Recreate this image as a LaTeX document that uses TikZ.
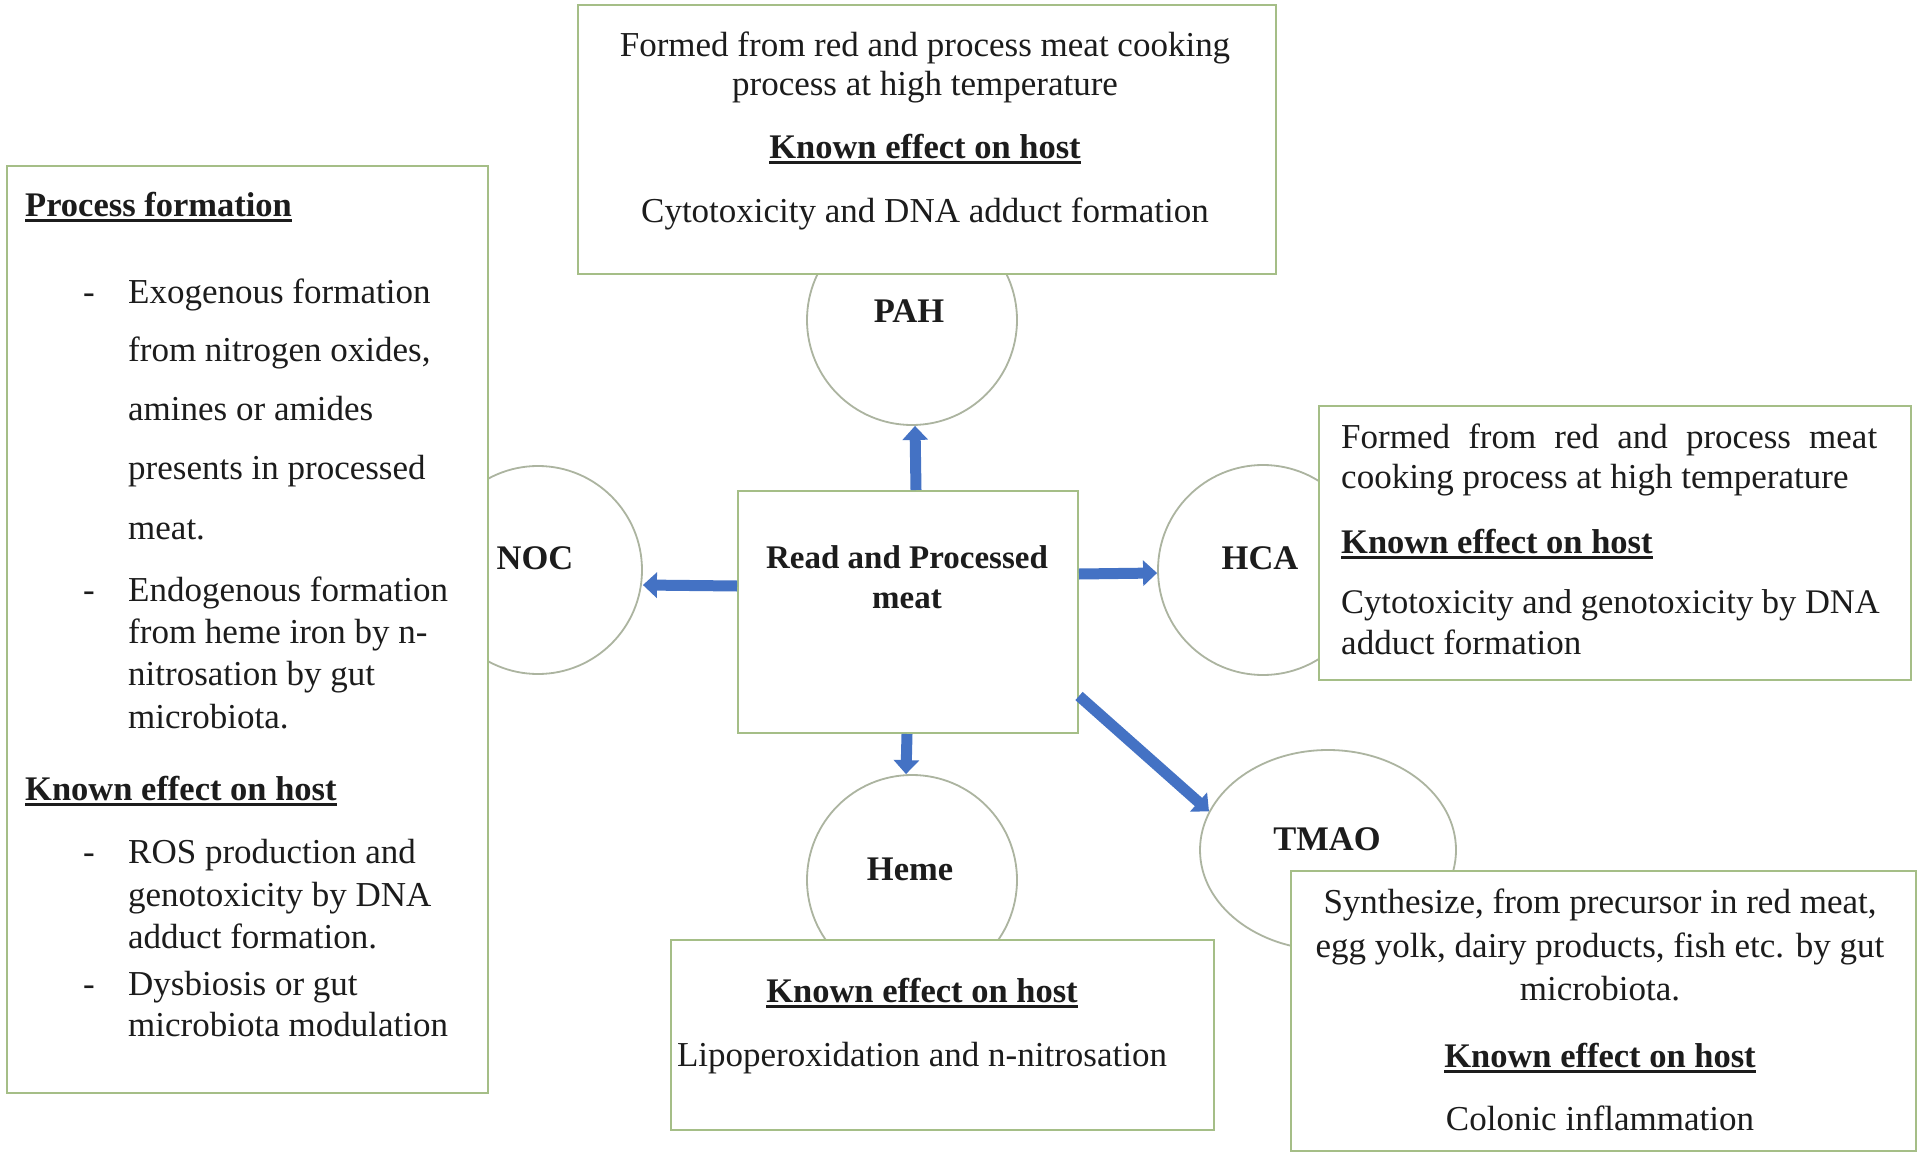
\documentclass[tikz,border=0pt]{standalone}
\usepackage{fontspec}
\setmainfont{Liberation Serif}
\usetikzlibrary{arrows.meta,shapes.geometric}
\definecolor{boxgreen}{RGB}{165,190,135}
\definecolor{circgray}{RGB}{172,180,160}
\definecolor{arrblue}{RGB}{68,114,196}
\definecolor{inkdark}{RGB}{28,28,28}
\newsavebox\kulbox
\newcommand\kul[1]{\sbox\kulbox{#1}\rlap{\rule[-6pt]{\wd\kulbox}{2.6pt}}\usebox\kulbox}
\begin{document}
\begin{tikzpicture}[x=1pt,y=-1pt,
  txt/.style={inner sep=0pt, text=inkdark, font=\fontsize{35}{40}\selectfont},
  btxt/.style={inner sep=0pt, text=inkdark, font=\fontsize{34.5}{40}\selectfont\bfseries},
  infobox/.style={draw=boxgreen, line width=2pt, fill=white, rectangle, inner sep=0pt, anchor=north west},
  circ/.style={draw=circgray, line width=1.8pt, fill=white, circle, inner sep=0pt, minimum size=210pt},
  arr/.style={draw=arrblue, line width=11pt, -{Triangle[width=25pt,length=14pt]}},
]
\fill[white] (0,0) rectangle (1920,1153);
\useasboundingbox (0,0) rectangle (1920,1153);

% circles
\node[circ, minimum size=208pt] (noc) at (538,570) {};
\node[circ] (pah) at (912,320) {};
\node[circ] (hca) at (1263,570) {};
\node[circ] (heme) at (912,880) {};
\node[draw=circgray, line width=1.8pt, fill=white, ellipse, inner sep=0pt,
      minimum width=256pt, minimum height=200pt] (tmao) at (1328,850) {};

% boxes
\node[infobox, minimum width=698pt, minimum height=269pt] (pahbox) at (577,4) {};
\node[infobox, minimum width=481pt, minimum height=927pt] (nocbox) at (6,165) {};
\node[infobox, minimum width=592pt, minimum height=274pt] (hcabox) at (1318,405) {};
\node[infobox, minimum width=543pt, minimum height=190pt] (hemebox) at (670,939) {};
\node[infobox, minimum width=625pt, minimum height=280pt] (tmaobox) at (1290,870) {};
\node[infobox, minimum width=340pt, minimum height=242pt] (cbox) at (737,490) {};

% arrows
\draw[arr] ([xshift=8pt]cbox.north) -- ([xshift=3pt]pah.south);
\draw[arr] ([yshift=26pt]cbox.west) -- ([yshift=-15pt]noc.east);
\draw[arr] ([yshift=38pt]cbox.east) -- ([yshift=-3pt]hca.west);
\draw[arr] ([xshift=-1pt]cbox.south) -- ([xshift=-6pt]heme.north);
\draw[arr] ([yshift=-84pt]cbox.east) -- (tmao.162);

% circle labels
\node[btxt, anchor=base] (nocL) at (535,569) {NOC};
\node[btxt, anchor=base] (pahL) at (909,322) {PAH};
\node[btxt, anchor=base] (hcaL) at (1260,569) {HCA};
\node[btxt, anchor=base] (hemeL) at (910,880) {Heme};
\node[btxt, anchor=base] (tmaoL) at (1327,850) {TMAO};

% centre box
\node[btxt, font=\fontsize{33}{38}\selectfont\bfseries, anchor=base] (c1) at (907,568) {Read and Processed};
\node[btxt, font=\fontsize{33}{38}\selectfont\bfseries, anchor=base] (c2) at (907,608) {meat};

% PAH box text
\node[txt, anchor=base] (p1) at (925,57) {Formed from red and process meat cooking};
\node[txt, anchor=base] (p2) at (925,96) {process at high temperature};
\node[btxt, anchor=base] (p3) at (925,158) {\kul{Known effect on host}};
\node[txt, anchor=base] (p4) at (925,222) {Cytotoxicity and DNA adduct formation};

% NOC box text
\node[btxt, anchor=base west] (n0) at (25,216) {\kul{Process formation}};
\node[txt, anchor=base west] (d1) at (83,303) {-};
\node[txt, anchor=base west] (n1) at (128,303) {Exogenous formation};
\node[txt, anchor=base west] (n2) at (128,361) {from nitrogen oxides,};
\node[txt, anchor=base west] (n3) at (128,420) {amines or amides};
\node[txt, anchor=base west] (n4) at (128,479) {presents in processed};
\node[txt, anchor=base west] (n5) at (128,539) {meat.};
\node[txt, anchor=base west] (d2) at (83,601) {-};
\node[txt, anchor=base west] (n6) at (128,601) {Endogenous formation};
\node[txt, anchor=base west] (n7) at (128,643) {from heme iron by n-};
\node[txt, anchor=base west] (n8) at (128,685) {nitrosation by gut};
\node[txt, anchor=base west] (n9) at (128,728) {microbiota.};
\node[btxt, anchor=base west] (nk) at (25,800) {\kul{Known effect on host}};
\node[txt, anchor=base west] (d3) at (83,863) {-};
\node[txt, anchor=base west] (m1) at (128,863) {ROS production and};
\node[txt, anchor=base west] (m2) at (128,906) {genotoxicity by DNA};
\node[txt, anchor=base west] (m3) at (128,948) {adduct formation.};
\node[txt, anchor=base west] (d4) at (83,995) {-};
\node[txt, anchor=base west] (m4) at (128,995) {Dysbiosis or gut};
\node[txt, anchor=base west] (m5) at (128,1036) {microbiota modulation};

% HCA box text
\node[txt, anchor=base west] (h1) at (1341,448) {\hbox to 536pt{Formed\hfill from\hfill red\hfill and\hfill process\hfill meat}};
\node[txt, anchor=base west] (h2) at (1341,488) {cooking process at high temperature};
\node[btxt, anchor=base west] (h3) at (1341,553) {\kul{Known effect on host}};
\node[txt, font=\fontsize{34.5}{40}\selectfont, anchor=base west] (h4) at (1341,613) {Cytotoxicity and genotoxicity by DNA};
\node[txt, anchor=base west] (h5) at (1341,654) {adduct formation};

% Heme box text
\node[btxt, anchor=base] (e1) at (922,1002) {\kul{Known effect on host}};
\node[txt, anchor=base] (e2) at (922,1066) {Lipoperoxidation and n-nitrosation};

% TMAO box text
\node[txt, anchor=base] (t1) at (1600,913) {Synthesize, from precursor in red meat,};
\node[txt, anchor=base] (t2) at (1600,957) {egg yolk, dairy products, fish etc. by gut};
\node[txt, anchor=base] (t3) at (1600,1000) {microbiota.};
\node[btxt, anchor=base] (t4) at (1600,1067) {\kul{Known effect on host}};
\node[txt, anchor=base] (t5) at (1600,1130) {Colonic inflammation};
\end{tikzpicture}
\end{document}
